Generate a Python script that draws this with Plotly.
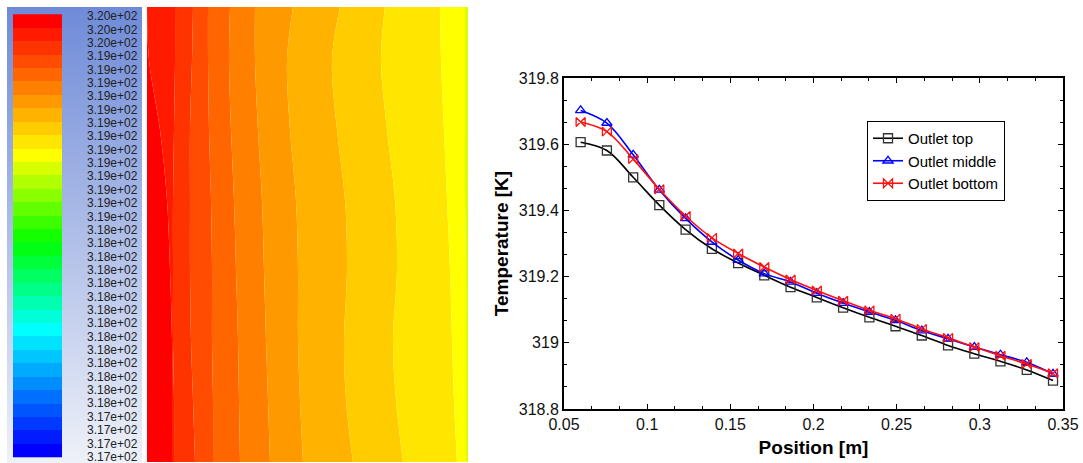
import plotly.graph_objects as go

# ---------------- line chart data ----------------
position = [0.0600, 0.0758, 0.0916, 0.1073, 0.1231, 0.1389, 0.1547, 0.1704, 0.1862, 0.2020,
            0.2178, 0.2336, 0.2493, 0.2651, 0.2809, 0.2967, 0.3124, 0.3282, 0.3440]
outlet_top = [319.606, 319.581, 319.500, 319.416, 319.342, 319.284, 319.241, 319.204, 319.168, 319.137,
              319.106, 319.077, 319.050, 319.022, 318.992, 318.967, 318.944, 318.918, 318.886]
outlet_middle = [319.702, 319.664, 319.568, 319.462, 319.376, 319.305, 319.250, 319.209, 319.184, 319.150,
                 319.120, 319.093, 319.068, 319.037, 319.012, 318.987, 318.964, 318.941, 318.906]
outlet_bottom = [319.667, 319.638, 319.555, 319.464, 319.383, 319.317, 319.270, 319.229, 319.191, 319.158,
                 319.127, 319.098, 319.073, 319.042, 319.015, 318.987, 318.961, 318.936, 318.908]
series_names = ["Outlet top", "Outlet middle", "Outlet bottom"]

x_ticks = [0.05, 0.1, 0.15, 0.2, 0.25, 0.3, 0.35]
x_ticktext = ["0.05", "0.1", "0.15", "0.2", "0.25", "0.3", "0.35"]
y_ticks = [318.8, 319.0, 319.2, 319.4, 319.6, 319.8]
y_ticktext = ["318.8", "319", "319.2", "319.4", "319.6", "319.8"]

# ---------------- colour legend (contour levels) ----------------
level_labels = (["3.20e+02"] * 3 + ["3.19e+02"] * 13 + ["3.18e+02"] * 14 + ["3.17e+02"] * 4)
level_index = list(range(33))   # 33 colour bands between 34 labels

# ---------------- contour picture: band edges ----------------
contour_y = [7, 60, 130, 200, 270, 340, 400, 462]
edge_left = [147, 147, 147, 147, 147, 147, 147, 147]
edge_b0 = [147, 149, 160, 167, 170, 172, 172, 172]
edge_b1 = [175, 175, 174, 173, 173, 173, 174, 174]
edge_b2 = [193, 192, 190, 190, 190, 191, 193, 195]
edge_b3 = [208, 208, 209, 211, 212, 212, 213, 213]
edge_b4 = [230, 229, 231, 234, 236, 238, 239, 240]
edge_b5 = [255, 255, 258, 262, 264, 266, 268, 270]
edge_b6 = [293, 287, 290, 296, 298, 298, 300, 303]
edge_b7 = [340, 332, 337, 345, 347, 344, 346, 353]
edge_b8 = [385, 381, 387, 395, 397, 393, 396, 403]
edge_b9 = [440, 441, 444, 447, 450, 452, 454, 457]
edge_b10 = [465, 465, 465, 465, 466, 466, 466, 466]
edge_right = [468, 468, 468, 468, 468, 468, 468, 468]
contour_edges = [edge_left, edge_b0, edge_b1, edge_b2, edge_b3, edge_b4, edge_b5,
                 edge_b6, edge_b7, edge_b8, edge_b9, edge_b10, edge_right]
contour_band_level = [0, 1, 2, 3, 4, 5, 6, 7, 8, 9, 10, 11]  # colour index of each band

# ---------------- styling helpers ----------------
W, H = 1083, 463
FONT = "Liberation Sans, Arial, sans-serif"


def hx(px):
    return px / W


def vy(py):
    return 1 - py / H


# Fluent-like rainbow for the 33 bands (red top -> blue bottom)
anchors = [(0, (255, 0, 0)), (10, (255, 255, 0)), (16.5, (0, 255, 0)),
           (23, (0, 255, 255)), (32, (0, 0, 255))]


def band_color(i):
    for (a, ca), (b, cb) in zip(anchors[:-1], anchors[1:]):
        if a <= i <= b:
            t = (i - a) / (b - a)
            c = [round(ca[k] + (cb[k] - ca[k]) * t) for k in range(3)]
            return "rgb(%d,%d,%d)" % tuple(c)
    return "rgb(0,0,255)"


band_colors = [band_color(i) for i in level_index]

# label placement (pixel rows 16 .. 456.7 in the bar's axis units)
BAR_TOP, BAR_BOT = 14, 458
R0, R1 = -0.02, 33.02


def row_to_units(py):
    return R0 + (py - BAR_TOP) * (R1 - R0) / (BAR_BOT - BAR_TOP)


label_pos = [row_to_units(16 + i * (456.7 - 16) / 33) for i in range(34)]

fig = go.Figure()

# colour-legend background gradient
fig.add_trace(go.Heatmap(z=[[0], [1]], x=[0], y=[0, 1], zsmooth="best",
                         colorscale=[[0, "#6f8bd8"], [1, "#eef1f8"]], showscale=False,
                         hoverinfo="skip", xaxis="x3", yaxis="y3"))

# colour legend bar
cs = []
for i, c in enumerate(band_colors):
    cs.append([i / 32, c])
fig.add_trace(go.Heatmap(z=[[i] for i in level_index], x=[0],
                         y=[i + 0.5 for i in level_index], zmin=0, zmax=32,
                         colorscale=cs, showscale=False, hoverinfo="skip",
                         xaxis="x4", yaxis="y4"))

# contour bands
for k, edge in enumerate(contour_edges):
    if k == 0:
        fig.add_trace(go.Scatter(x=edge, y=contour_y, mode="lines", line=dict(width=0, shape="spline"),
                                 showlegend=False, hoverinfo="skip", xaxis="x2", yaxis="y2"))
    else:
        col = band_colors[contour_band_level[k - 1]]
        fig.add_trace(go.Scatter(x=edge, y=contour_y, mode="lines",
                                 line=dict(width=0, shape="spline", color=col),
                                 fill="tonextx", fillcolor=col,
                                 showlegend=False, hoverinfo="skip", xaxis="x2", yaxis="y2"))

# line chart
styles = [("#000000", "square-open", "#333333"),
          ("#0000ff", "triangle-up-open", "#0000ff"),
          ("#ff1010", "bowtie-open", "#ff1010")]
for name, vals, (lc, sym, mc) in zip(series_names, [outlet_top, outlet_middle, outlet_bottom], styles):
    fig.add_trace(go.Scatter(x=position, y=vals, name=name, mode="lines+markers", legendgroup=name,
                             line=dict(color=lc, width=1.6, shape="spline", smoothing=1.0),
                             marker=dict(symbol=sym, size=9, color=mc, line=dict(width=1.3, color=mc)),
                             xaxis="x", yaxis="y"))

axis_common = dict(showline=True, linecolor="black", linewidth=2, mirror="ticks",
                   ticks="inside", ticklen=5, tickwidth=1.3, tickcolor="black",
                   showgrid=False, zeroline=False, automargin=False,
                   tickfont=dict(family=FONT, size=16, color="#111"))

hidden = dict(visible=False, showgrid=False, zeroline=False, fixedrange=True, automargin=False)

fig.update_layout(
    template="none",
    width=W, height=H, autosize=False,
    margin=dict(l=0, r=0, t=0, b=0, pad=0),
    paper_bgcolor="white", plot_bgcolor="rgba(0,0,0,0)",
    font=dict(family=FONT, color="black"),
    xaxis=dict(domain=[hx(564), hx(1063)], range=[0.05, 0.35], anchor="y",
               tickmode="array", tickvals=x_ticks, ticktext=x_ticktext,
               minor=dict(ticks="inside", ticklen=3, tickwidth=1.2, tickcolor="black",
                          tick0=0.05, dtick=0.05 / 3, showgrid=False),
               title=dict(text="Position [m]", standoff=8,
                          font=dict(family=FONT, size=19, weight="bold")),
               **axis_common),
    yaxis=dict(domain=[vy(409), vy(78)], range=[318.8, 319.8], anchor="x",
               tickmode="array", tickvals=y_ticks, ticktext=y_ticktext,
               minor=dict(ticks="inside", ticklen=3, tickwidth=1.2, tickcolor="black",
                          tick0=318.8, dtick=0.2 / 3, showgrid=False),
               title=dict(text="Temperature [K]", standoff=5,
                          font=dict(family=FONT, size=19, weight="bold")),
               **axis_common),
    xaxis2=dict(domain=[hx(147), hx(468)], range=[147, 468], anchor="y2", **hidden),
    yaxis2=dict(domain=[vy(462), vy(7)], range=[462, 7], anchor="x2", **hidden),
    xaxis3=dict(domain=[hx(7), hx(142)], range=[-0.5, 0.5], anchor="y3", **hidden),
    yaxis3=dict(domain=[0, vy(7)], range=[1, 0], anchor="x3", **hidden),
    xaxis4=dict(domain=[hx(13), hx(62)], range=[-0.5, 0.5], anchor="y4", **hidden),
    yaxis4=dict(domain=[vy(BAR_BOT), vy(BAR_TOP)], range=[R1, R0], anchor="x4", side="right",
                tickmode="array", tickvals=label_pos, ticktext=level_labels,
                showline=False, showgrid=False, zeroline=False, ticks="", fixedrange=True,
                automargin=False, ticklabelstandoff=24, ticklabeloverflow="allow",
                tickfont=dict(family=FONT, size=12, color="#222")),
    legend=dict(x=hx(867), y=vy(121), xanchor="left", yanchor="top",
                bordercolor="black", borderwidth=1, bgcolor="white",
                font=dict(family=FONT, size=15, color="black"),
                traceorder="normal", tracegroupgap=5),
    showlegend=True,
)

fig.write_html("out.html", config={"displayModeBar": False},
               post_script="document.body.style.margin='0px';")
